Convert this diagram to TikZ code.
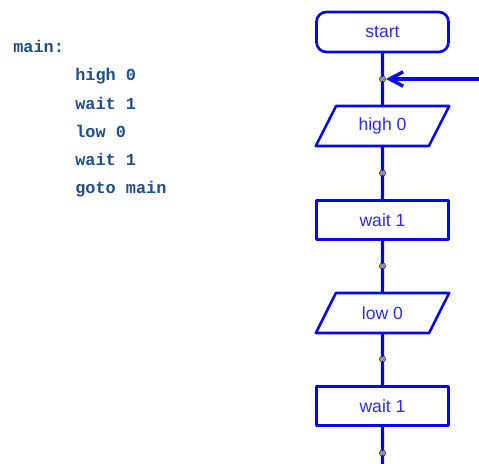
\documentclass[tikz,border=0pt]{standalone}
\usepackage{fontspec}
\setmainfont{Liberation Sans}
\setmonofont{Liberation Mono}
\usetikzlibrary{arrows.meta,shapes.geometric}
\definecolor{fcBlue}{HTML}{0505F5}
\definecolor{fcText}{HTML}{2B2BF2}
\definecolor{fcCode}{HTML}{1D4E8E}
\definecolor{fcDot}{HTML}{9A8F88}
\tikzset{
  fc diagram/.style={x=0.025cm, y=-0.025cm,
    line cap=round, line join=round},
  fc text/.style={text=fcText, font=\fontsize{12.5}{14}\selectfont},
  fc start/.style={fc text, draw=fcBlue, line width=1.9pt,
    rounded corners=7pt, minimum width=3.3cm, minimum height=1cm},
  fc io/.style={fc text, draw=fcBlue, line width=1.8pt, trapezium,
    trapezium left angle=64, trapezium right angle=116,
    trapezium stretches=true, minimum width=3.35cm, minimum height=1cm},
  fc box/.style={fc text, draw=fcBlue, line width=2.6pt,
    minimum width=3.3cm, minimum height=0.98cm},
  fc dot/.style={circle, inner sep=0pt, minimum size=0.16cm,
    fill=fcDot, draw=black!75, line width=0.4pt},
  fc line/.style={draw=fcBlue, line width=2.4pt},
  fc arrow/.style={fc line, -{Straight Barb[length=3.4mm, width=3.6mm]}},
  fc code/.style={anchor=base west, inner sep=0pt, text=fcCode,
    font=\fontsize{12}{14}\selectfont\ttfamily\bfseries}
}
\begin{document}
\begin{tikzpicture}[fc diagram]
\useasboundingbox (0,0) rectangle (479,464);
% program listing
\node[fc code] (lmain) at (13,53) {main:};
\node[fc code] (lhigh) at (75,81) {high 0};
\node[fc code] (lwaitA) at (75,110) {wait 1};
\node[fc code] (llow) at (75,138) {low 0};
\node[fc code] (lwaitB) at (75,166) {wait 1};
\node[fc code] (lgoto) at (75,194) {goto main};
% flowchart
\node[fc start] (start) at (382.5,32) {start};
\node[fc dot] (j1) at (382.5,79) {};
\node[fc io] (high) at (382.5,126) {high 0};
\node[fc dot] (j2) at (382.5,173) {};
\node[fc box] (waitA) at (382.5,220) {wait 1};
\node[fc dot] (j3) at (382.5,266) {};
\node[fc io] (low) at (382.5,313) {low 0};
\node[fc dot] (j4) at (382.5,359) {};
\node[fc box] (waitB) at (382.5,406) {wait 1};
\node[fc dot] (j5) at (382.5,453) {};
\coordinate (down) at (382.5,472);
\coordinate (loopin) at (485,79);
\draw[fc line] (start) -- (j1) -- (high) -- (j2) -- (waitA)
  -- (j3) -- (low) -- (j4) -- (waitB) -- (j5) -- (down);
\draw[fc arrow] (loopin) -- (j1);
\end{tikzpicture}
\end{document}
